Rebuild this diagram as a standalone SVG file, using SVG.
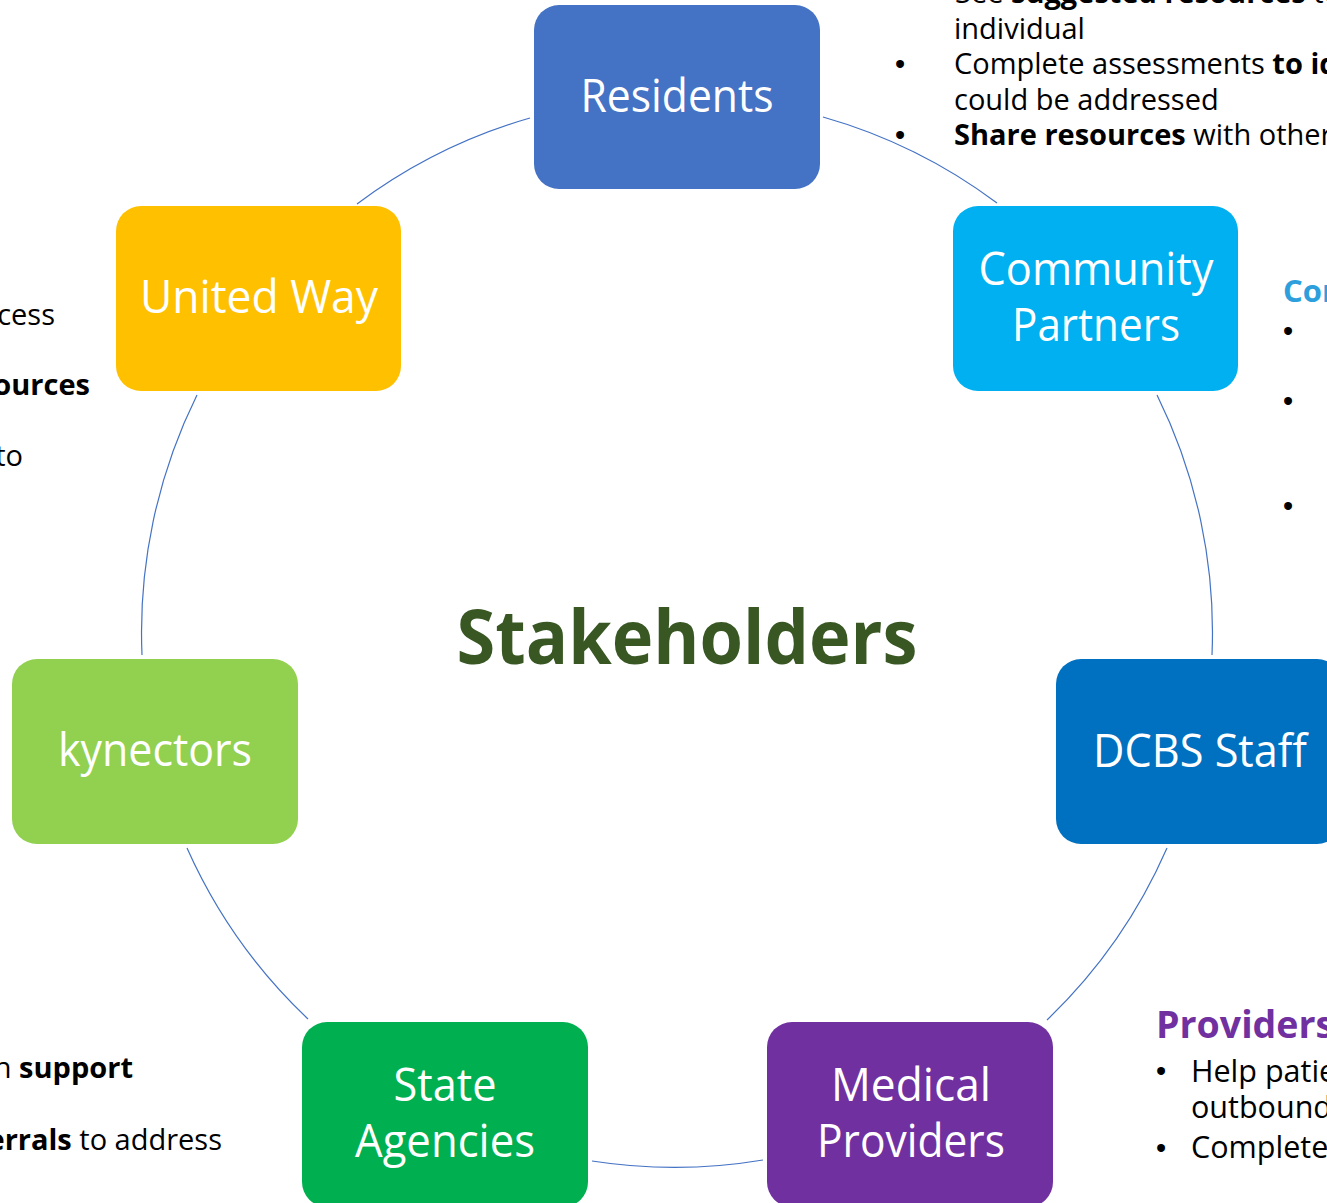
<svg xmlns="http://www.w3.org/2000/svg" width="1327" height="1203" viewBox="0 0 1327 1203">
<style>
.box{stroke:none}
.lbl{font-family:"Open Sans","Noto Sans",sans-serif;font-size:45px;fill:#ffffff;text-anchor:middle}
.arc{fill:none;stroke:#4472C4;stroke-width:1.2}
.body{font-family:"Open Sans","Noto Sans",sans-serif;font-size:29px;fill:#000000}
.body2{font-family:"Open Sans","Noto Sans",sans-serif;font-size:30.5px;fill:#000000}
.bul{font-family:"Liberation Sans",Arial,sans-serif;font-size:29px;fill:#000000;text-anchor:middle}
.b{font-weight:bold}
</style>
<rect width="1327" height="1203" fill="#ffffff"/>
<g id="connectors">
<path class="arc" d="M823,117 A535,535 0 0 1 997,203"/>
<path class="arc" d="M1157,395 A535,535 0 0 1 1212,655"/>
<path class="arc" d="M1167,848 A535,535 0 0 1 1047,1020"/>
<path class="arc" d="M763,1160 A535,535 0 0 1 592,1161"/>
<path class="arc" d="M308,1019 A535,535 0 0 1 187,848"/>
<path class="arc" d="M142,655 A535,535 0 0 1 197,395"/>
<path class="arc" d="M357,204 A535,535 0 0 1 530,118"/>
</g>
<g id="residents">
<rect class="box" x="534" y="5" width="286" height="184" rx="25" fill="#4472C4"/>
<text class="lbl" x="677" y="112" textLength="193" lengthAdjust="spacingAndGlyphs">Residents</text>
</g>
<g id="community-partners">
<rect class="box" x="953" y="206" width="285" height="185" rx="25" fill="#00B0F0"/>
<text class="lbl" x="1096" y="285" textLength="235" lengthAdjust="spacingAndGlyphs">Community</text>
<text class="lbl" x="1096" y="341" textLength="168" lengthAdjust="spacingAndGlyphs">Partners</text>
</g>
<g id="dcbs-staff">
<rect class="box" x="1056" y="659" width="286" height="185" rx="25" fill="#0070C0"/>
<text class="lbl" x="1200" y="767" textLength="214" lengthAdjust="spacingAndGlyphs">DCBS Staff</text>
</g>
<g id="medical-providers">
<rect class="box" x="767" y="1022" width="286" height="185" rx="25" fill="#7030A0"/>
<text class="lbl" x="911" y="1101" textLength="160" lengthAdjust="spacingAndGlyphs">Medical</text>
<text class="lbl" x="911" y="1157" textLength="188" lengthAdjust="spacingAndGlyphs">Providers</text>
</g>
<g id="state-agencies">
<rect class="box" x="302" y="1022" width="286" height="185" rx="25" fill="#00B050"/>
<text class="lbl" x="445" y="1101" textLength="103" lengthAdjust="spacingAndGlyphs">State</text>
<text class="lbl" x="445" y="1157" textLength="180" lengthAdjust="spacingAndGlyphs">Agencies</text>
</g>
<g id="kynectors">
<rect class="box" x="12" y="659" width="286" height="185" rx="25" fill="#92D050"/>
<text class="lbl" x="155" y="766" textLength="194" lengthAdjust="spacingAndGlyphs">kynectors</text>
</g>
<g id="united-way">
<rect class="box" x="116" y="206" width="285" height="185" rx="25" fill="#FFC000"/>
<text class="lbl" x="259" y="313" textLength="238" lengthAdjust="spacingAndGlyphs">United Way</text>
</g>
<g id="title">
<text x="687" y="664" text-anchor="middle" font-family="'Open Sans','Noto Sans',sans-serif" font-weight="bold" font-size="76" fill="#385723" textLength="461" lengthAdjust="spacingAndGlyphs">Stakeholders</text>
</g>
<g id="residents-notes">
<text class="body" x="955" y="3">See <tspan class="b">suggested resources</tspan> to</text>
<text class="body" x="954" y="39">individual</text>
<text class="bul" x="900" y="74">•</text>
<text class="body" x="954" y="74">Complete assessments <tspan class="b">to identify</tspan></text>
<text class="body" x="954" y="110">could be addressed</text>
<text class="bul" x="900" y="145">•</text>
<text class="body" x="954" y="145"><tspan class="b">Share resources</tspan> with others</text>
</g>
<g id="community-notes">
<text x="1283" y="302" font-family="'Open Sans','Noto Sans',sans-serif" font-weight="bold" font-size="31" fill="#2E9FDD">Community</text>
<text class="bul" x="1288" y="341">•</text>
<text class="bul" x="1288" y="411">•</text>
<text class="bul" x="1288" y="516">•</text>
</g>
<g id="providers-notes">
<text x="1156" y="1038" font-family="'Open Sans','Noto Sans',sans-serif" font-weight="bold" font-size="37.5" fill="#7030A0">Providers</text>
<text class="bul" x="1161" y="1081">•</text>
<text class="body2" x="1191" y="1082">Help patients</text>
<text class="body2" x="1191" y="1118">outbound</text>
<text class="bul" x="1161" y="1158">•</text>
<text class="body2" x="1191" y="1158">Complete</text>
</g>
<g id="united-way-notes">
<text class="body" x="55" y="325" text-anchor="end">access</text>
<text class="body b" x="90" y="395" text-anchor="end">resources</text>
<text class="body" x="23" y="466" text-anchor="end">to</text>
</g>
<g id="state-notes">
<text class="body" x="133" y="1078" text-anchor="end">in <tspan class="b">support</tspan></text>
<text class="body" x="222" y="1150" text-anchor="end"><tspan class="b">referrals</tspan> to address</text>
</g>
</svg>
